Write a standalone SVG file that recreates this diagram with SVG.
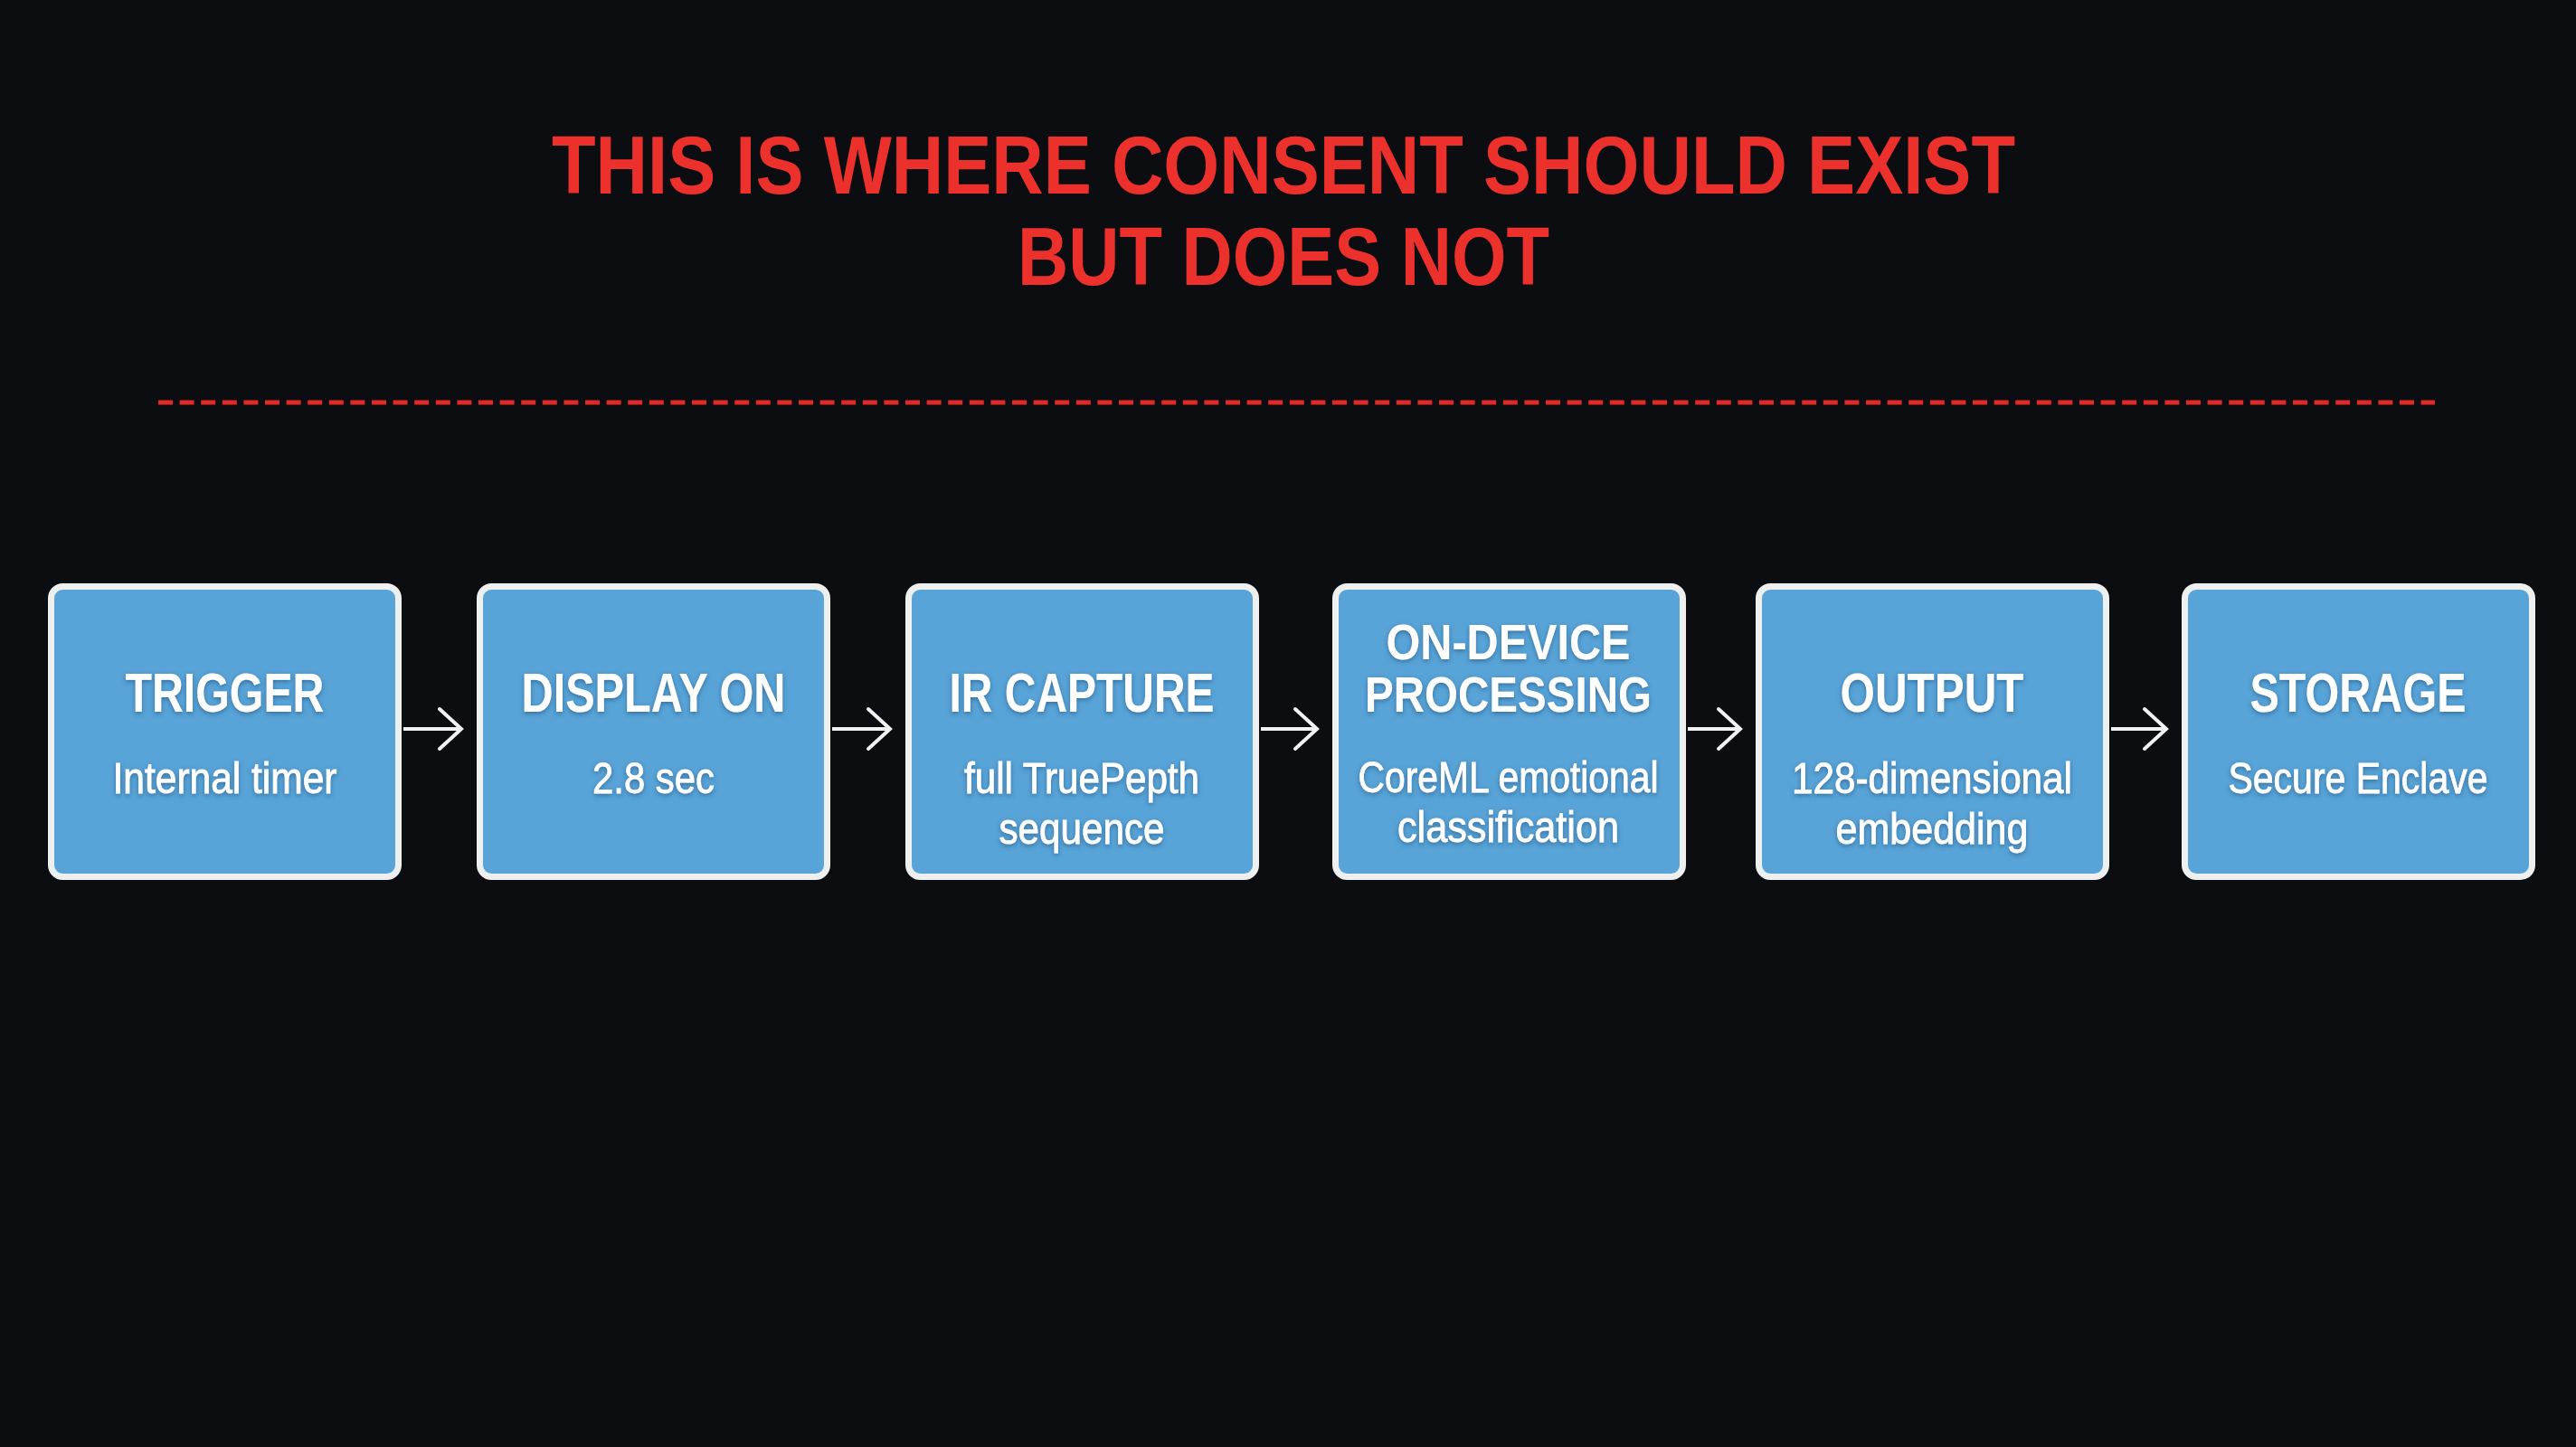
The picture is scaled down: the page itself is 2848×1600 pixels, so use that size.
<svg xmlns="http://www.w3.org/2000/svg" width="2848" height="1600" viewBox="0 0 2848 1600">
  <defs>
    <style>
      .title { font-family: "Liberation Sans", Arial, sans-serif; font-weight: bold; font-size: 90px; fill: #EC312D; text-anchor: middle; }
      .box { fill: #58A3D7; stroke: #EEF0F0; stroke-width: 7; }
      .h { font-family: "Liberation Sans", Arial, sans-serif; font-weight: bold; font-size: 61px; fill: #FFFFFF; text-anchor: middle; filter: url(#sh); }
      .h2 { font-size: 56px; }
      .s { font-family: "Liberation Sans", Arial, sans-serif; font-weight: normal; font-size: 48px; fill: #FFFFFF; stroke: #FFFFFF; stroke-width: 0.8; text-anchor: middle; filter: url(#sh); }
      .conn { stroke: #F2F2F2; stroke-width: 4; fill: none; marker-end: url(#arr); }
    </style>
    <filter id="sh" x="-10%" y="-30%" width="120%" height="160%">
      <feDropShadow dx="0" dy="2" stdDeviation="2.5" flood-color="#1B4E78" flood-opacity="0.6"/>
    </filter>
    <marker id="arr" markerUnits="userSpaceOnUse" markerWidth="32" markerHeight="52" refX="27" refY="25" orient="auto">
      <path d="M3,3 L27,25 L3,47" fill="none" stroke="#F2F2F2" stroke-width="4" stroke-linecap="round"/>
    </marker>
  </defs>

  <rect x="0" y="0" width="2848" height="1600" fill="#0C0D11"/>

  <g id="heading">
    <text class="title" x="1419" y="214" textLength="1618" lengthAdjust="spacingAndGlyphs">THIS IS WHERE CONSENT SHOULD EXIST</text>
    <text class="title" x="1419" y="315" textLength="588" lengthAdjust="spacingAndGlyphs">BUT DOES NOT</text>
  </g>

  <g id="divider">
    <line x1="175" y1="445" x2="2692" y2="445" stroke="#E02A28" stroke-width="5" stroke-dasharray="16 7.6"/>
  </g>

  <g id="node-trigger">
    <rect class="box" x="56.5" y="648.5" width="384" height="321" rx="13"/>
    <text class="h" x="248.5" y="787" textLength="220" lengthAdjust="spacingAndGlyphs">TRIGGER</text>
    <text class="s" x="248.5" y="877" textLength="248" lengthAdjust="spacingAndGlyphs">Internal timer</text>
  </g>

  <g id="node-display">
    <rect class="box" x="530.5" y="648.5" width="384" height="321" rx="13"/>
    <text class="h" x="722.5" y="787" textLength="292" lengthAdjust="spacingAndGlyphs">DISPLAY ON</text>
    <text class="s" x="722.5" y="877" textLength="135" lengthAdjust="spacingAndGlyphs">2.8 sec</text>
  </g>

  <g id="node-ir">
    <rect class="box" x="1004.5" y="648.5" width="384" height="321" rx="13"/>
    <text class="h" x="1196" y="787" textLength="293" lengthAdjust="spacingAndGlyphs">IR CAPTURE</text>
    <text class="s" x="1196" y="877" textLength="260" lengthAdjust="spacingAndGlyphs">full TruePepth</text>
    <text class="s" x="1196" y="933" textLength="183" lengthAdjust="spacingAndGlyphs">sequence</text>
  </g>

  <g id="node-processing">
    <rect class="box" x="1476.5" y="648.5" width="384" height="321" rx="13"/>
    <text class="h h2" x="1667.5" y="729" textLength="270" lengthAdjust="spacingAndGlyphs">ON-DEVICE</text>
    <text class="h h2" x="1667.5" y="787" textLength="317" lengthAdjust="spacingAndGlyphs">PROCESSING</text>
    <text class="s" x="1667.5" y="876" textLength="332" lengthAdjust="spacingAndGlyphs">CoreML emotional</text>
    <text class="s" x="1667.5" y="931" textLength="245" lengthAdjust="spacingAndGlyphs">classification</text>
  </g>

  <g id="node-output">
    <rect class="box" x="1944.5" y="648.5" width="384" height="321" rx="13"/>
    <text class="h" x="2136" y="787" textLength="203" lengthAdjust="spacingAndGlyphs">OUTPUT</text>
    <text class="s" x="2136" y="877" textLength="310" lengthAdjust="spacingAndGlyphs">128-dimensional</text>
    <text class="s" x="2136" y="933" textLength="213" lengthAdjust="spacingAndGlyphs">embedding</text>
  </g>

  <g id="node-storage">
    <rect class="box" x="2415.5" y="648.5" width="384" height="321" rx="13"/>
    <text class="h" x="2607" y="787" textLength="239" lengthAdjust="spacingAndGlyphs">STORAGE</text>
    <text class="s" x="2607" y="877" textLength="287" lengthAdjust="spacingAndGlyphs">Secure Enclave</text>
  </g>

  <g id="connectors">
    <line class="conn" x1="446" y1="806" x2="510" y2="806"/>
    <line class="conn" x1="920" y1="806" x2="984" y2="806"/>
    <line class="conn" x1="1394" y1="806" x2="1456" y2="806"/>
    <line class="conn" x1="1866" y1="806" x2="1924" y2="806"/>
    <line class="conn" x1="2334" y1="806" x2="2395" y2="806"/>
  </g>
</svg>
